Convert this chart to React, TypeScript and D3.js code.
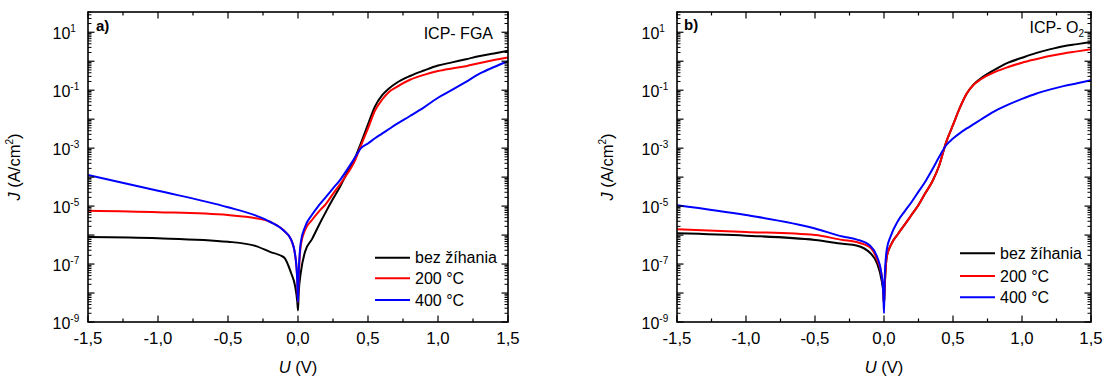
import React from "react";
import * as d3 from "d3";

// Applied voltage U (V) – shared sampling grid for all curves
const voltage = [
  -1.5, -1.0, -0.5, -0.3, -0.2, -0.1, -0.05, -0.02, -0.005, 0, 0.005, 0.02, 0.05, 0.1,
  0.15, 0.2, 0.25, 0.3, 0.35, 0.4, 0.45, 0.5, 0.55, 0.6, 0.65, 0.7, 0.8, 0.9, 1.0, 1.1,
  1.2, 1.3, 1.4, 1.5,
];

// log10 of current density J (A/cm^2)
// Panel a) ICP- FGA
const fgaNoAnneal = [
  -6.07, -6.11, -6.23, -6.38, -6.58, -6.77, -7.3, -7.78, -8.3, -8.6, -8.0, -7.3, -6.58, -6.14,
  -5.65, -5.19, -4.75, -4.33, -3.86, -3.42, -2.82, -2.18, -1.56, -1.18, -0.94, -0.76, -0.51, -0.32,
  -0.15, -0.04, 0.07, 0.18, 0.27, 0.36,
];
const fga200 = [
  -5.16, -5.21, -5.31, -5.42, -5.54, -5.85, -6.15, -6.7, -7.6, -8.3, -7.5, -6.35, -5.83, -5.48,
  -5.18, -4.92, -4.58, -4.25, -3.9, -3.5, -2.9, -2.32, -1.7, -1.33, -1.06, -0.9, -0.64, -0.47,
  -0.34, -0.25, -0.17, -0.06, 0.04, 0.13,
];
const fga400 = [
  -3.93, -4.47, -5.04, -5.33, -5.54, -5.85, -6.15, -6.7, -7.6, -8.3, -7.3, -6.25, -5.72, -5.3,
  -4.97, -4.68, -4.39, -4.1, -3.75, -3.38, -3.0, -2.84, -2.66, -2.5, -2.34, -2.18, -1.89, -1.59,
  -1.26, -0.99, -0.71, -0.42, -0.2, 0.0,
];

// Panel b) ICP- O2
const o2NoAnneal = [
  -5.94, -6.02, -6.17, -6.3, -6.36, -6.62, -6.98, -7.5, -8.0, -8.4, -7.8, -6.75, -6.34, -5.97,
  -5.64, -5.3, -4.96, -4.55, -4.15, -3.6, -2.8, -2.2, -1.6, -1.11, -0.8, -0.6, -0.3, -0.05,
  0.12, 0.28, 0.41, 0.52, 0.59, 0.66,
];
const o2200 = [
  -5.8, -5.89, -6.0, -6.17, -6.24, -6.43, -6.85, -7.3, -7.9, -8.4, -7.8, -6.75, -6.34, -5.97,
  -5.64, -5.3, -4.96, -4.55, -4.15, -3.6, -2.8, -2.2, -1.6, -1.11, -0.81, -0.63, -0.38, -0.2,
  -0.05, 0.07, 0.18, 0.27, 0.34, 0.41,
];
const o2400 = [
  -4.97, -5.31, -5.77, -6.05, -6.15, -6.37, -6.75, -7.3, -8.0, -8.7, -7.5, -6.5, -6.02, -5.52,
  -5.18, -4.86, -4.5, -4.15, -3.74, -3.3, -2.9, -2.67, -2.48, -2.32, -2.17, -2.02, -1.73, -1.5,
  -1.3, -1.12, -0.98, -0.86, -0.76, -0.66,
];

const legendLabels = ["bez žíhania", "200 °C", "400 °C"];
const seriesColors = ["#000000", "#ff0000", "#0000ff"];
const xMajorTicks = [-1.5, -1.0, -0.5, 0, 0.5, 1.0, 1.5];
const xMinorTicks = [-1.25, -0.75, -0.25, 0.25, 0.75, 1.25];
const yDecadeExponents = [-9, -8, -7, -6, -5, -4, -3, -2, -1, 0, 1];
const yLabelExponents = [-9, -7, -5, -3, -1, 1];

const FONT = "'Liberation Sans', Arial, Helvetica, sans-serif";
const Y_TOP = 12;
const Y_BOTTOM = 322;

type PanelProps = {
  x0: number;
  x1: number;
  tag: string;
  tagX: number;
  tagY: number;
  series: number[][];
  legendX0: number;
  legendX1: number;
  legendTextX: number;
  legendRows: number[];
  titleX: number;
  title: React.ReactNode;
};

function Panel(p: PanelProps) {
  const xs = d3.scaleLinear().domain([-1.5, 1.5]).range([p.x0, p.x1]);
  const ys = d3.scaleLog().domain([1e-9, 50]).range([Y_BOTTOM, Y_TOP]);
  const line = d3
    .line<number>()
    .x((_, i) => xs(voltage[i]))
    .y((v) => ys(Math.pow(10, v)))
    .curve(d3.curveMonotoneX);

  const minorY: number[] = [];
  yDecadeExponents.forEach((e) => {
    for (let m = 2; m <= 9; m++) {
      const v = m * Math.pow(10, e);
      if (v <= 50) minorY.push(v);
    }
  });

  const MAJ = 6.5;
  const MIN = 3.5;
  const fmt = (v: number) => v.toFixed(1).replace(".", ",");
  const cx = (p.x0 + p.x1) / 2;
  const cy = (Y_TOP + Y_BOTTOM) / 2;

  return (
    <g fontFamily={FONT}>
      {p.series.map((s, i) => (
        <path
          key={i}
          d={line(s) || ""}
          fill="none"
          stroke={seriesColors[i]}
          strokeWidth={2}
          strokeLinejoin="round"
        />
      ))}
      {xMajorTicks.map((t) => (
        <g key={"xM" + t}>
          <line x1={xs(t)} x2={xs(t)} y1={Y_BOTTOM} y2={Y_BOTTOM - MAJ} stroke="#000" strokeWidth={1.2} />
          <line x1={xs(t)} x2={xs(t)} y1={Y_TOP} y2={Y_TOP + MAJ} stroke="#000" strokeWidth={1.2} />
          <text x={xs(t)} y={343.5} fontSize={16.8} textAnchor="middle" fill="#000">
            {fmt(t)}
          </text>
        </g>
      ))}
      {xMinorTicks.map((t) => (
        <g key={"xm" + t}>
          <line x1={xs(t)} x2={xs(t)} y1={Y_BOTTOM} y2={Y_BOTTOM - MIN} stroke="#000" strokeWidth={1.2} />
          <line x1={xs(t)} x2={xs(t)} y1={Y_TOP} y2={Y_TOP + MIN} stroke="#000" strokeWidth={1.2} />
        </g>
      ))}
      {yDecadeExponents.map((e) => {
        const y = ys(Math.pow(10, e));
        return (
          <g key={"yM" + e}>
            <line x1={p.x0} x2={p.x0 + MAJ} y1={y} y2={y} stroke="#000" strokeWidth={1.2} />
            <line x1={p.x1} x2={p.x1 - MAJ} y1={y} y2={y} stroke="#000" strokeWidth={1.2} />
          </g>
        );
      })}
      {minorY.map((v, i) => (
        <g key={"ym" + i}>
          <line x1={p.x0} x2={p.x0 + MIN} y1={ys(v)} y2={ys(v)} stroke="#000" strokeWidth={1} />
          <line x1={p.x1} x2={p.x1 - MIN} y1={ys(v)} y2={ys(v)} stroke="#000" strokeWidth={1} />
        </g>
      ))}
      {yLabelExponents.map((e) => {
        const y = ys(Math.pow(10, e));
        return (
          <text key={"yl" + e} x={p.x0 - 35.5} y={y + 6.5} fontSize={16} fill="#000">
            10
            <tspan fontSize={10} dy={-7}>
              {e < 0 ? "-" + Math.abs(e) : String(e)}
            </tspan>
          </text>
        );
      })}
      <rect
        x={p.x0}
        y={Y_TOP}
        width={p.x1 - p.x0}
        height={Y_BOTTOM - Y_TOP}
        fill="none"
        stroke="#000"
        strokeWidth={1.6}
      />
      <text x={p.tagX} y={p.tagY} fontSize={15} fontWeight="bold" fill="#000">
        {p.tag}
      </text>
      {p.title}
      {legendLabels.map((lab, i) => (
        <g key={"lg" + i}>
          <line
            x1={p.legendX0}
            x2={p.legendX1}
            y1={p.legendRows[i]}
            y2={p.legendRows[i]}
            stroke={seriesColors[i]}
            strokeWidth={2}
          />
          <text x={p.legendTextX} y={p.legendRows[i] + 5.5} fontSize={16} fill="#000">
            {lab}
          </text>
        </g>
      ))}
      <text x={cx} y={373} fontSize={16.5} textAnchor="middle" fill="#000">
        <tspan fontStyle="italic">U</tspan> (V)
      </text>
      <text
        transform={`translate(${p.titleX},${cy}) rotate(-90)`}
        fontSize={16.5}
        textAnchor="middle"
        fill="#000"
      >
        <tspan fontStyle="italic">J</tspan> (A/cm
        <tspan fontSize={10} dy={-7}>
          2
        </tspan>
        <tspan dy={7}>)</tspan>
      </text>
    </g>
  );
}

export default function App() {
  return (
    <div style={{ position: "absolute", left: 0, top: 0 }}>
      <svg width={1106} height={378} style={{ display: "block", background: "#fff" }}>
        <Panel
          x0={88}
          x1={508}
          tag="a)"
          tagX={96}
          tagY={31}
          series={[fgaNoAnneal, fga200, fga400]}
          legendX0={375}
          legendX1={410}
          legendTextX={415}
          legendRows={[257.7, 278.3, 300]}
          titleX={20}
          title={
            <text x={493} y={39} fontSize={16} textAnchor="end" fill="#000" fontFamily={FONT}>
              ICP- FGA
            </text>
          }
        />
        <Panel
          x0={677}
          x1={1091}
          tag="b)"
          tagX={684}
          tagY={30}
          series={[o2NoAnneal, o2200, o2400]}
          legendX0={960}
          legendX1={995}
          legendTextX={1000}
          legendRows={[253.3, 276, 297.3]}
          titleX={613}
          title={
            <text x={1084} y={33} fontSize={16} textAnchor="end" fill="#000" fontFamily={FONT}>
              ICP- O
              <tspan fontSize={10} dy={3.5}>
                2
              </tspan>
            </text>
          }
        />
      </svg>
    </div>
  );
}
